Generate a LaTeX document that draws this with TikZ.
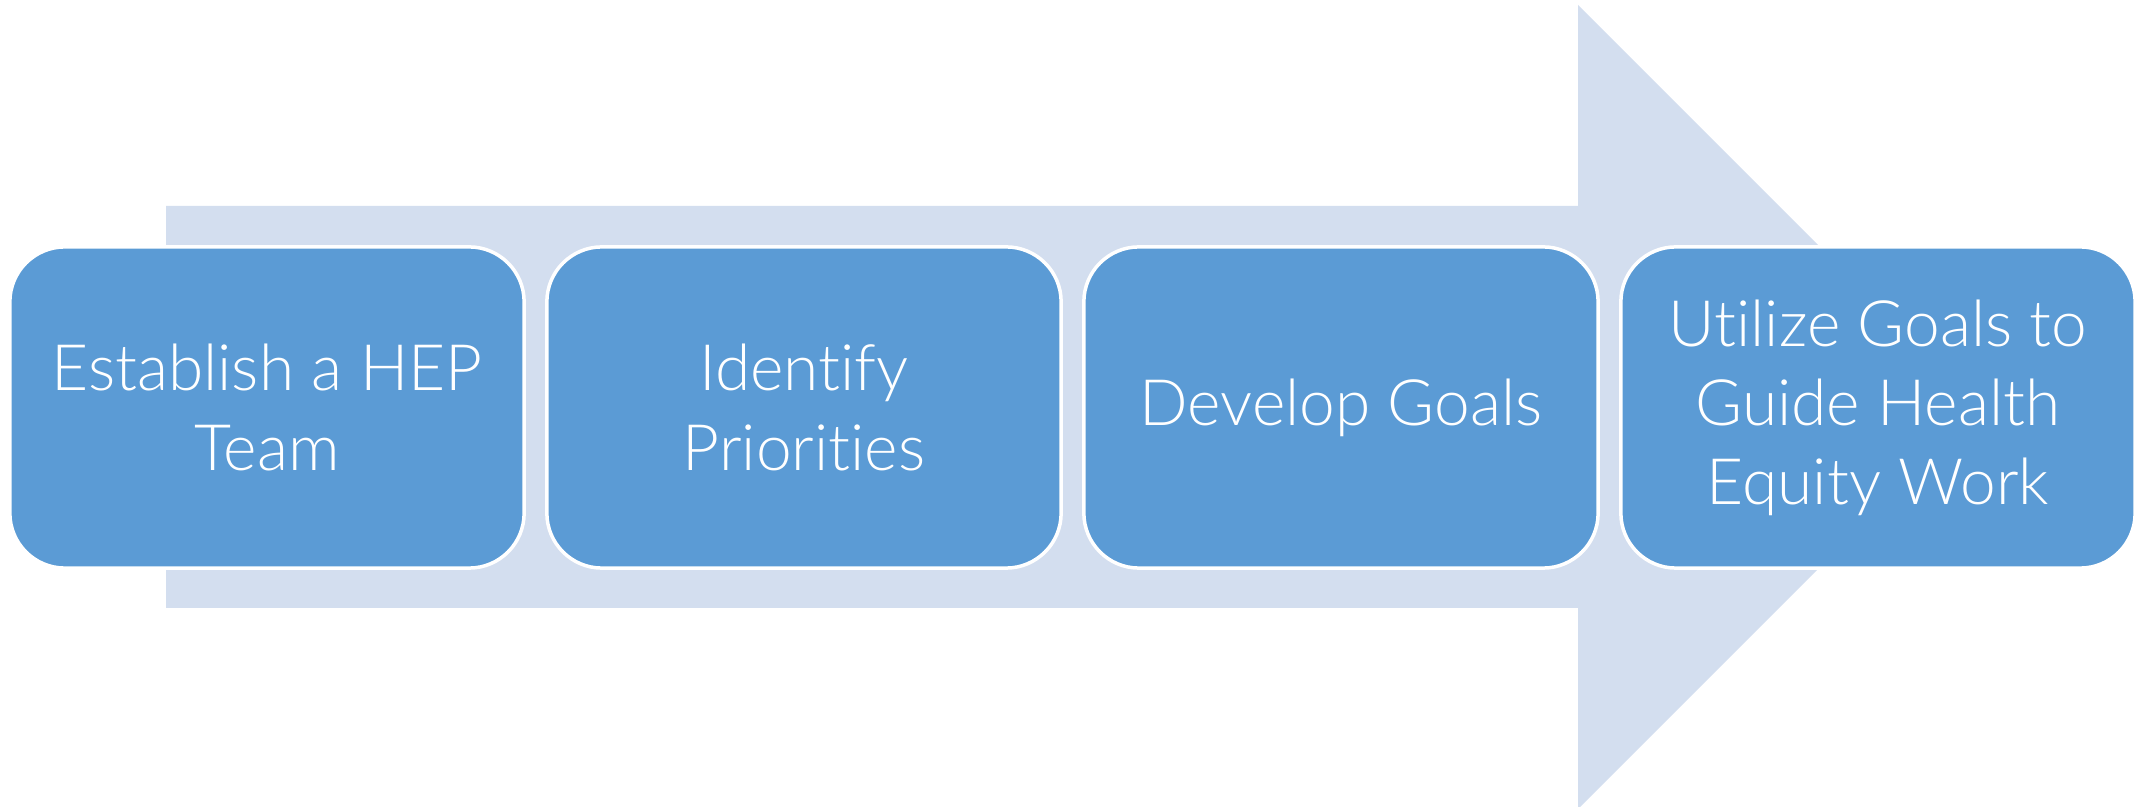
\documentclass[tikz,border=0pt]{standalone}
\usepackage{fontspec}
\setmainfont{Lato}[UprightFont=* Light, Ligatures=NoCommon]
\definecolor{stepblue}{HTML}{5B9BD5}
\definecolor{arrowtint}{HTML}{D3DEEF}
\begin{document}
\begin{tikzpicture}[x=0.01cm,y=-0.01cm,
  stepbox/.style={draw=white, line width=0.035cm, fill=stepblue,
    rounded corners=0.55cm, minimum width=5.14cm, minimum height=3.21cm,
    inner sep=0pt, align=center, text=white,
    font=\fontsize{18.2}{22.5}\selectfont}]
\useasboundingbox (0,0) rectangle (2138,807);
% background block arrow
\fill[arrowtint] (166,206) -- (1578,206) -- (1578,5) -- (1980,407)
  -- (1578,809) -- (1578,608) -- (166,608) -- cycle;
% process steps
\node[stepbox] (s1) at (267,407.5) {Establish a HEP\\Team};
\node[stepbox] (s2) at (804,407.5) {Identify\\Priorities};
\node[stepbox] (s3) at (1341,407.5) {Develop Goals};
\node[stepbox] (s4) at (1878,407.5) {Utilize Goals to\\Guide Health\\Equity Work};
\end{tikzpicture}
\end{document}
